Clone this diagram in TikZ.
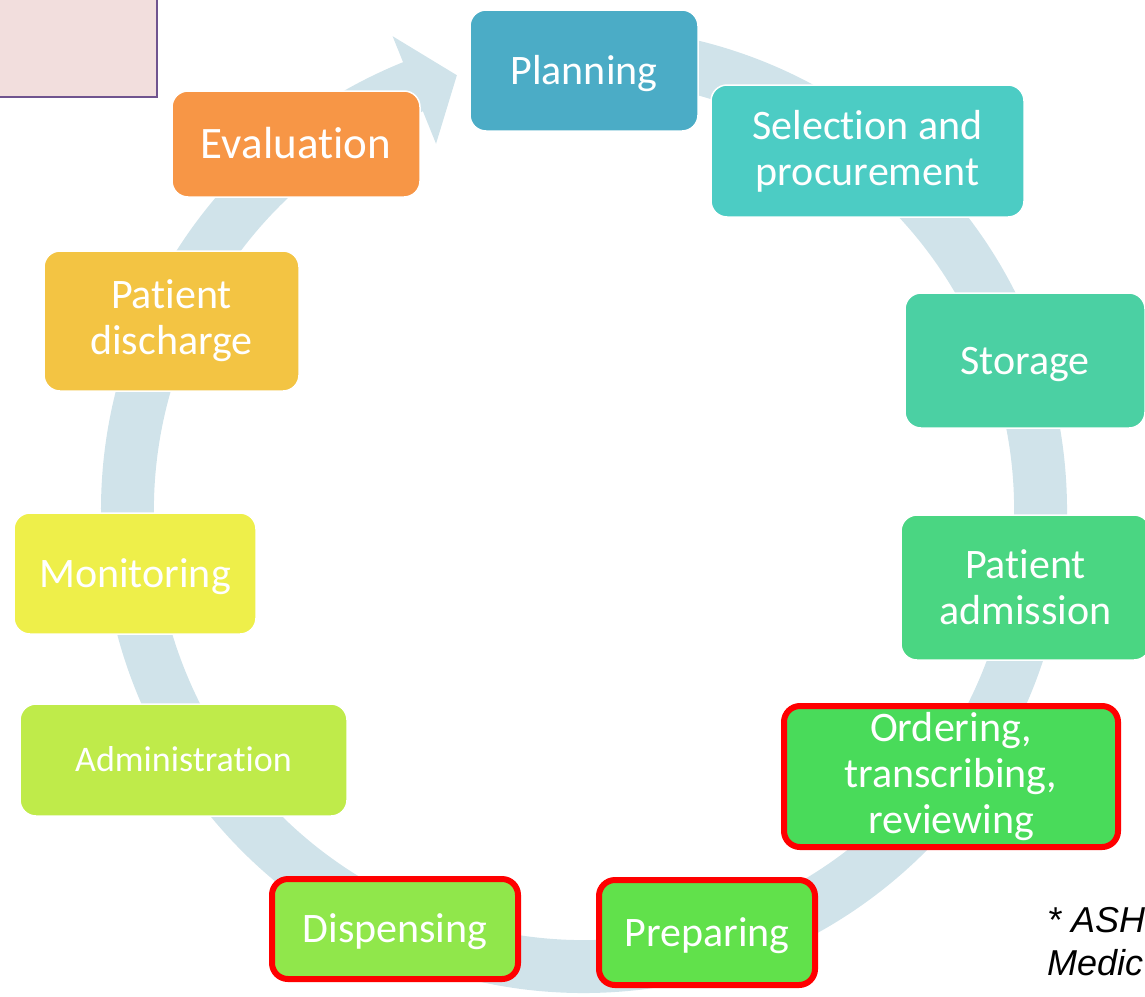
\documentclass[tikz,border=0pt]{standalone}
\usepackage{fontspec}
\setmainfont{Carlito}[Ligatures=NoCommon]
\newfontfamily\notefont{Liberation Sans}
\usepackage{tikz}

\definecolor{ringblue}{RGB}{208,227,234}
\definecolor{tagfill}{RGB}{242,222,221}
\definecolor{tagline}{RGB}{112,84,143}
\definecolor{c0}{RGB}{75,172,198}
\definecolor{c1}{RGB}{76,204,196}
\definecolor{c2}{RGB}{75,208,163}
\definecolor{c3}{RGB}{74,214,130}
\definecolor{c4}{RGB}{73,219,90}
\definecolor{c5}{RGB}{97,225,75}
\definecolor{c6}{RGB}{144,231,75}
\definecolor{c7}{RGB}{191,235,74}
\definecolor{c8}{RGB}{238,239,74}
\definecolor{c9}{RGB}{243,196,67}
\definecolor{c10}{RGB}{247,150,70}

\begin{document}
\begin{tikzpicture}[x=1pt, y=1pt, main/.style = {draw=white, line width=1.5pt, rounded corners=16pt, text=white, align=center, inner sep=0pt, font=\fontsize{42}{46}\selectfont}, one/.style = {text height=36pt, text depth=9pt}, hot/.style = {draw=red, line width=6pt}]
				\useasboundingbox (0,0) rectangle (1145,-996);
				\coordinate (c) at (584,-510);
				% the big circular arrow behind the stages
				\fill[ringblue] ([shift={(c)}]95:483) arc[start angle=95, end angle=-248, radius=483pt]
					-- ([shift={(c)}]112:511) -- ([shift={(c)}]106.3:453) -- ([shift={(c)}]112:395)
					-- ([shift={(c)}]112:430) arc[start angle=-248, end angle=95, radius=430pt] -- cycle;
				\node[draw=tagline, fill=tagfill, line width=1.5pt, minimum width=180pt, minimum height=115pt, inner sep=0pt] (t) at (67,-39.5) {};
				\node[main, one, fill=c0, minimum width=228pt, minimum height=121pt] (0) at (584,-70.5) {Planning};
				\node[main, fill=c1, minimum width=313pt, minimum height=132pt] (1) at (867.5,-151) {Selection and\\procurement};
				\node[main, one, fill=c2, minimum width=240pt, minimum height=135pt] (2) at (1025,-360.5) {Storage};
				\node[main, fill=c3, minimum width=249pt, minimum height=145pt] (3) at (1025.5,-587.5) {Patient\\admission};
				\node[main, hot, fill=c4, minimum width=334pt, minimum height=141pt] (4) at (951,-776.5) {Ordering,\\transcribing,\\reviewing};
				\node[main, one, hot, fill=c5, minimum width=216pt, minimum height=105pt] (5) at (707,-932.5) {Preparing};
				\node[main, one, hot, fill=c6, minimum width=246pt, minimum height=100pt] (6) at (395,-929) {Dispensing};
				\node[main, one, fill=c7, minimum width=327pt, minimum height=112pt, font=\fontsize{36}{42}\selectfont, text height=32pt] (7) at (183.5,-760) {Administration};
				\node[main, one, fill=c8, minimum width=242pt, minimum height=121pt] (8) at (135,-573.5) {Monitoring};
				\node[main, fill=c9, minimum width=255pt, minimum height=140pt] (9) at (171.5,-321) {Patient\\discharge};
				\node[main, one, fill=c10, minimum width=248pt, minimum height=106pt, font=\fontsize{45}{50}\selectfont, text height=38pt] (10) at (296,-144) {Evaluation};
				% source note, runs off the right edge
				\node[anchor=base west, inner sep=0pt, font=\notefont\itshape\fontsize{36}{43}\selectfont] (n1) at (1047,-932) {* ASH};
				\node[anchor=base west, inner sep=0pt, font=\notefont\itshape\fontsize{36}{43}\selectfont] (n2) at (1047,-975) {Medic};
			\end{tikzpicture}
\end{document}
